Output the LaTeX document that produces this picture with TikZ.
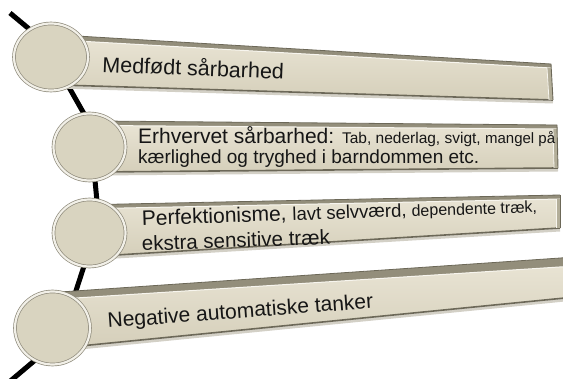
\documentclass[tikz,border=0pt]{standalone}
\usepackage{fontspec}
\setmainfont{Liberation Sans}
\usetikzlibrary{shapes.geometric}

\definecolor{barhi}{HTML}{E8E3D3}
\definecolor{barlo}{HTML}{D5CFBA}
\definecolor{barhigh}{HTML}{F7F5EE}
\definecolor{topface}{HTML}{938E7B}
\definecolor{edgec}{HTML}{6C6858}
\definecolor{endc}{HTML}{B3AE99}
\definecolor{shadowc}{HTML}{D3D0C6}
\definecolor{discfill}{HTML}{D9D4C0}
\definecolor{rimlight}{HTML}{F2F0E8}
\definecolor{rimgray}{HTML}{8E8A7B}
\definecolor{ink}{HTML}{161616}

\tikzset{
  spine/.style={line width=5pt, black},
  frontface/.style={top color=barhi, bottom color=barlo},
  disc/.style={ellipse, fill=discfill, draw=rimgray, double=rimlight,
    double distance=2.2pt, line width=0.7pt, inner sep=0pt},
  label/.style={anchor=base west, inner sep=0pt, text=ink},
}

% one extruded banner, given its six corner coordinates #1tl,#1tr,#1fl,#1fr,#1bl,#1br
\newcommand\bannerbody[1]{%
  \draw[line width=3pt, shadowc] ([yshift=-2pt]#1bl) -- ([yshift=-2pt]#1br);
  \fill[topface] (#1tl) -- (#1tr) -- (#1fr) -- (#1fl) -- cycle;
  \shade[frontface] (#1fl) -- (#1fr) -- (#1br) -- (#1bl) -- cycle;
  \draw[line width=1pt, barhigh] (#1fl) -- (#1fr);
  \draw[line width=1.6pt, edgec] (#1bl) -- (#1br);
  \draw[line width=0.8pt, edgec] (#1tl) -- (#1tr);
  \fill[endc] ([xshift=-4pt]#1fr) -- (#1fr) -- (#1br) -- ([xshift=-4pt]#1br) -- cycle;
  \draw[line width=0.9pt, edgec] (#1tr) -- (#1br);
  \draw[line width=0.8pt, barhigh] ([xshift=-4pt]#1fr) -- ([xshift=-4pt]#1br);
}

\begin{document}
\begin{tikzpicture}[x=1pt, y=-1pt]
\useasboundingbox (0,0) rectangle (563,379);
\clip (0,0) rectangle (563,379);

% spine running through the discs
\coordinate (s0) at (10,13);  \coordinate (s1) at (40,38);
\coordinate (s2) at (66,82);  \coordinate (s3) at (87,119);
\coordinate (s4) at (94,170); \coordinate (s5) at (98,212);
\coordinate (s6) at (86,260); \coordinate (s7) at (72,303);
\coordinate (s8) at (40,356); \coordinate (s9) at (8,383);
\draw[spine] (s0) -- (s1);
\draw[spine] (s2) -- (s3);
\draw[spine] (s4) -- (s5);
\draw[spine] (s6) -- (s7);
\draw[spine] (s8) -- (s9);

% banner corners
\coordinate (atl) at (60,35);   \coordinate (atr) at (551,64);
\coordinate (afl) at (60,40);   \coordinate (afr) at (551,68);
\coordinate (abl) at (60,85);   \coordinate (abr) at (553,100);

\coordinate (btl) at (100,121); \coordinate (btr) at (557,125);
\coordinate (bfl) at (100,125.5); \coordinate (bfr) at (557,129);
\coordinate (bbl) at (100,172); \coordinate (bbr) at (558,168);

\coordinate (ctl) at (100,204.5); \coordinate (ctr) at (560,195);
\coordinate (cfl) at (100,208.5); \coordinate (cfr) at (560,199);
\coordinate (cbl) at (100,256); \coordinate (cbr) at (560,228);

\coordinate (dtl) at (60,292);  \coordinate (dtr) at (575,257);
\coordinate (dfl) at (60,299);  \coordinate (dfr) at (575,266);
\coordinate (dbl) at (60,348);  \coordinate (dbr) at (575,297);

\bannerbody{a}
\bannerbody{b}
\bannerbody{c}
\bannerbody{d}

% discs
\node[disc, minimum width=74pt, minimum height=67pt] (c1) at (51,57) {};
\node[disc, minimum width=72pt, minimum height=67pt] (c2) at (89.5,147) {};
\node[disc, minimum width=72pt, minimum height=67pt] (c3) at (89.5,233) {};
\node[disc, minimum width=75pt, minimum height=73pt] (c4) at (52.5,328) {};

% texts
\node[label, rotate=-2.3] (t1) at (102,72)
  {\fontsize{21.5}{25}\selectfont Medfødt sårbarhed};
\node[label] (t2a) at (138,144)
  {\fontsize{21}{24}\selectfont Erhvervet sårbarhed: \fontsize{15.5}{18}\selectfont Tab, nederlag, svigt, \fontsize{15}{18}\selectfont mangel på};
\node[label] (t2b) at (138,164)
  {\fontsize{19}{22}\selectfont kærlighed og tryghed i barndommen etc.};
\node[label, rotate=1.9] (t3a) at (142,225.5)
  {\fontsize{21}{24}\selectfont Perfektionisme, \fontsize{18.5}{22}\selectfont lavt selvværd, \fontsize{16}{19}\selectfont dependente træk,};
\node[label, rotate=2.1] (t3b) at (142,251)
  {\fontsize{20.5}{24}\selectfont ekstra sensitive træk};
\node[label, rotate=4.3] (t4) at (108,328)
  {\fontsize{21}{24}\selectfont Negative automatiske tanker};
\end{tikzpicture}
\end{document}
